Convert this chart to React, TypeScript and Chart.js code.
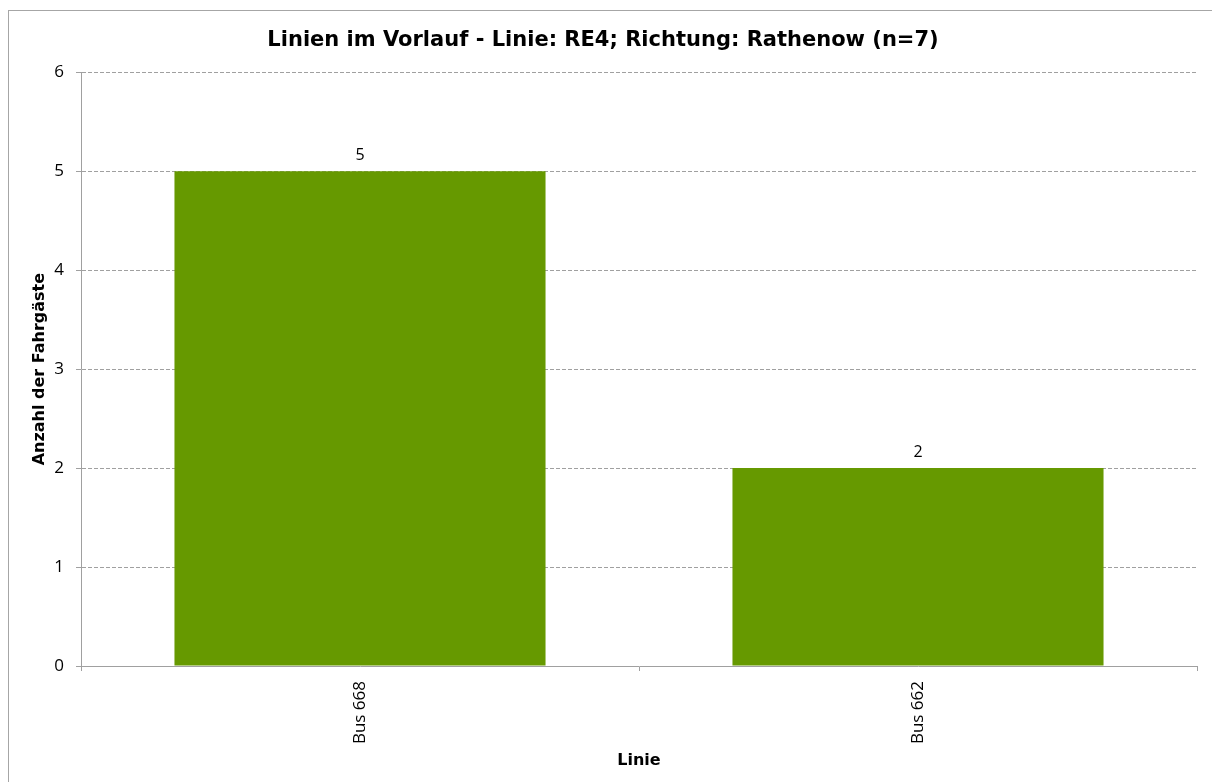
import React, { useEffect, useRef } from "react";
import { Chart, registerables } from "chart.js";

Chart.register(...registerables);

const categories: string[] = ["Bus 668", "Bus 662"];
const values: number[] = [5, 2];
const titleText = "Linien im Vorlauf - Linie: RE4; Richtung: Rathenow (n=7)";
const xTitle = "Linie";
const yTitle = "Anzahl der Fahrgäste";

const W = 1203;
const H = 771;

const valueLabels = {
  id: "valueLabels",
  afterDatasetsDraw(chart: any) {
    const ctx = chart.ctx;
    const meta = chart.getDatasetMeta(0);
    ctx.save();
    ctx.font = "16px 'Open Sans'";
    ctx.fillStyle = "#000";
    ctx.textAlign = "center";
    ctx.textBaseline = "middle";
    meta.data.forEach((bar: any, i: number) => {
      ctx.fillText(String(chart.data.datasets[0].data[i]), bar.x, bar.y - 16);
    });
    ctx.restore();
  },
};

export default function App() {
  const ref = useRef<HTMLCanvasElement | null>(null);
  useEffect(() => {
    if (!ref.current) return;
    const chart = new Chart(ref.current, {
      type: "bar",
      data: {
        labels: categories,
        datasets: [
          {
            data: values,
            backgroundColor: "#669900",
            borderWidth: 0,
            barPercentage: 0.665,
            categoryPercentage: 1,
          },
        ],
      },
      options: {
        responsive: false,
        animation: false,
        layout: { padding: { left: 0, right: 15, top: 0, bottom: 0 } },
        plugins: {
          legend: { display: false },
          tooltip: { enabled: false },
          title: {
            display: true,
            text: titleText,
            color: "#000",
            font: { family: "'DejaVu Sans'", size: 21, weight: "bold", lineHeight: 1.2 },
            padding: { top: 17, bottom: 19 },
          },
        },
        scales: {
          x: {
            afterFit: (s: any) => {
              s.height = 116;
            },
            grid: {
              offset: true,
              drawOnChartArea: false,
              drawTicks: true,
              tickLength: 5,
              tickColor: "#a0a0a0",
              tickWidth: 1,
            },
            border: { display: true, color: "#a0a0a0", width: 1 },
            ticks: {
              color: "#000",
              font: { family: "'Open Sans'", size: 17 },
              minRotation: 90,
              maxRotation: 90,
              padding: 10,
            },
            title: {
              display: true,
              text: xTitle,
              color: "#000",
              font: { family: "'DejaVu Sans'", size: 16, weight: "bold", lineHeight: 1.2 },
              padding: { top: 0, bottom: 12 },
            },
          },
          y: {
            min: 0,
            max: 6,
            afterFit: (s: any) => {
              s.width = 72;
            },
            grid: {
              color: (c: any) => (c.tick && c.tick.value === 0 ? "rgba(0,0,0,0)" : "#a0a0a0"),
              lineWidth: 1,
              drawTicks: true,
              tickLength: 5,
              tickColor: "#a0a0a0",
              tickBorderDash: [],
            },
            border: { display: true, color: "#a0a0a0", width: 1, dash: [4, 2] },
            ticks: {
              stepSize: 1,
              color: "#000",
              font: { family: "'Open Sans'", size: 17 },
              padding: 12,
            },
            title: {
              display: true,
              text: yTitle,
              color: "#000",
              font: { family: "'DejaVu Sans'", size: 16, weight: "bold", lineHeight: 1.2 },
              padding: { top: 21, bottom: 0 },
            },
          },
        },
      },
      plugins: [valueLabels],
    });
    return () => chart.destroy();
  }, []);

  return (
    <div
      style={{
        position: "absolute",
        left: 8,
        top: 10,
        width: W,
        height: H,
        borderTop: "1px solid #a6a6a6",
        borderLeft: "1px solid #a6a6a6",
        background: "#fff",
        overflow: "hidden",
      }}
    >
      <canvas ref={ref} width={W} height={H} style={{ display: "block" }} />
    </div>
  );
}
